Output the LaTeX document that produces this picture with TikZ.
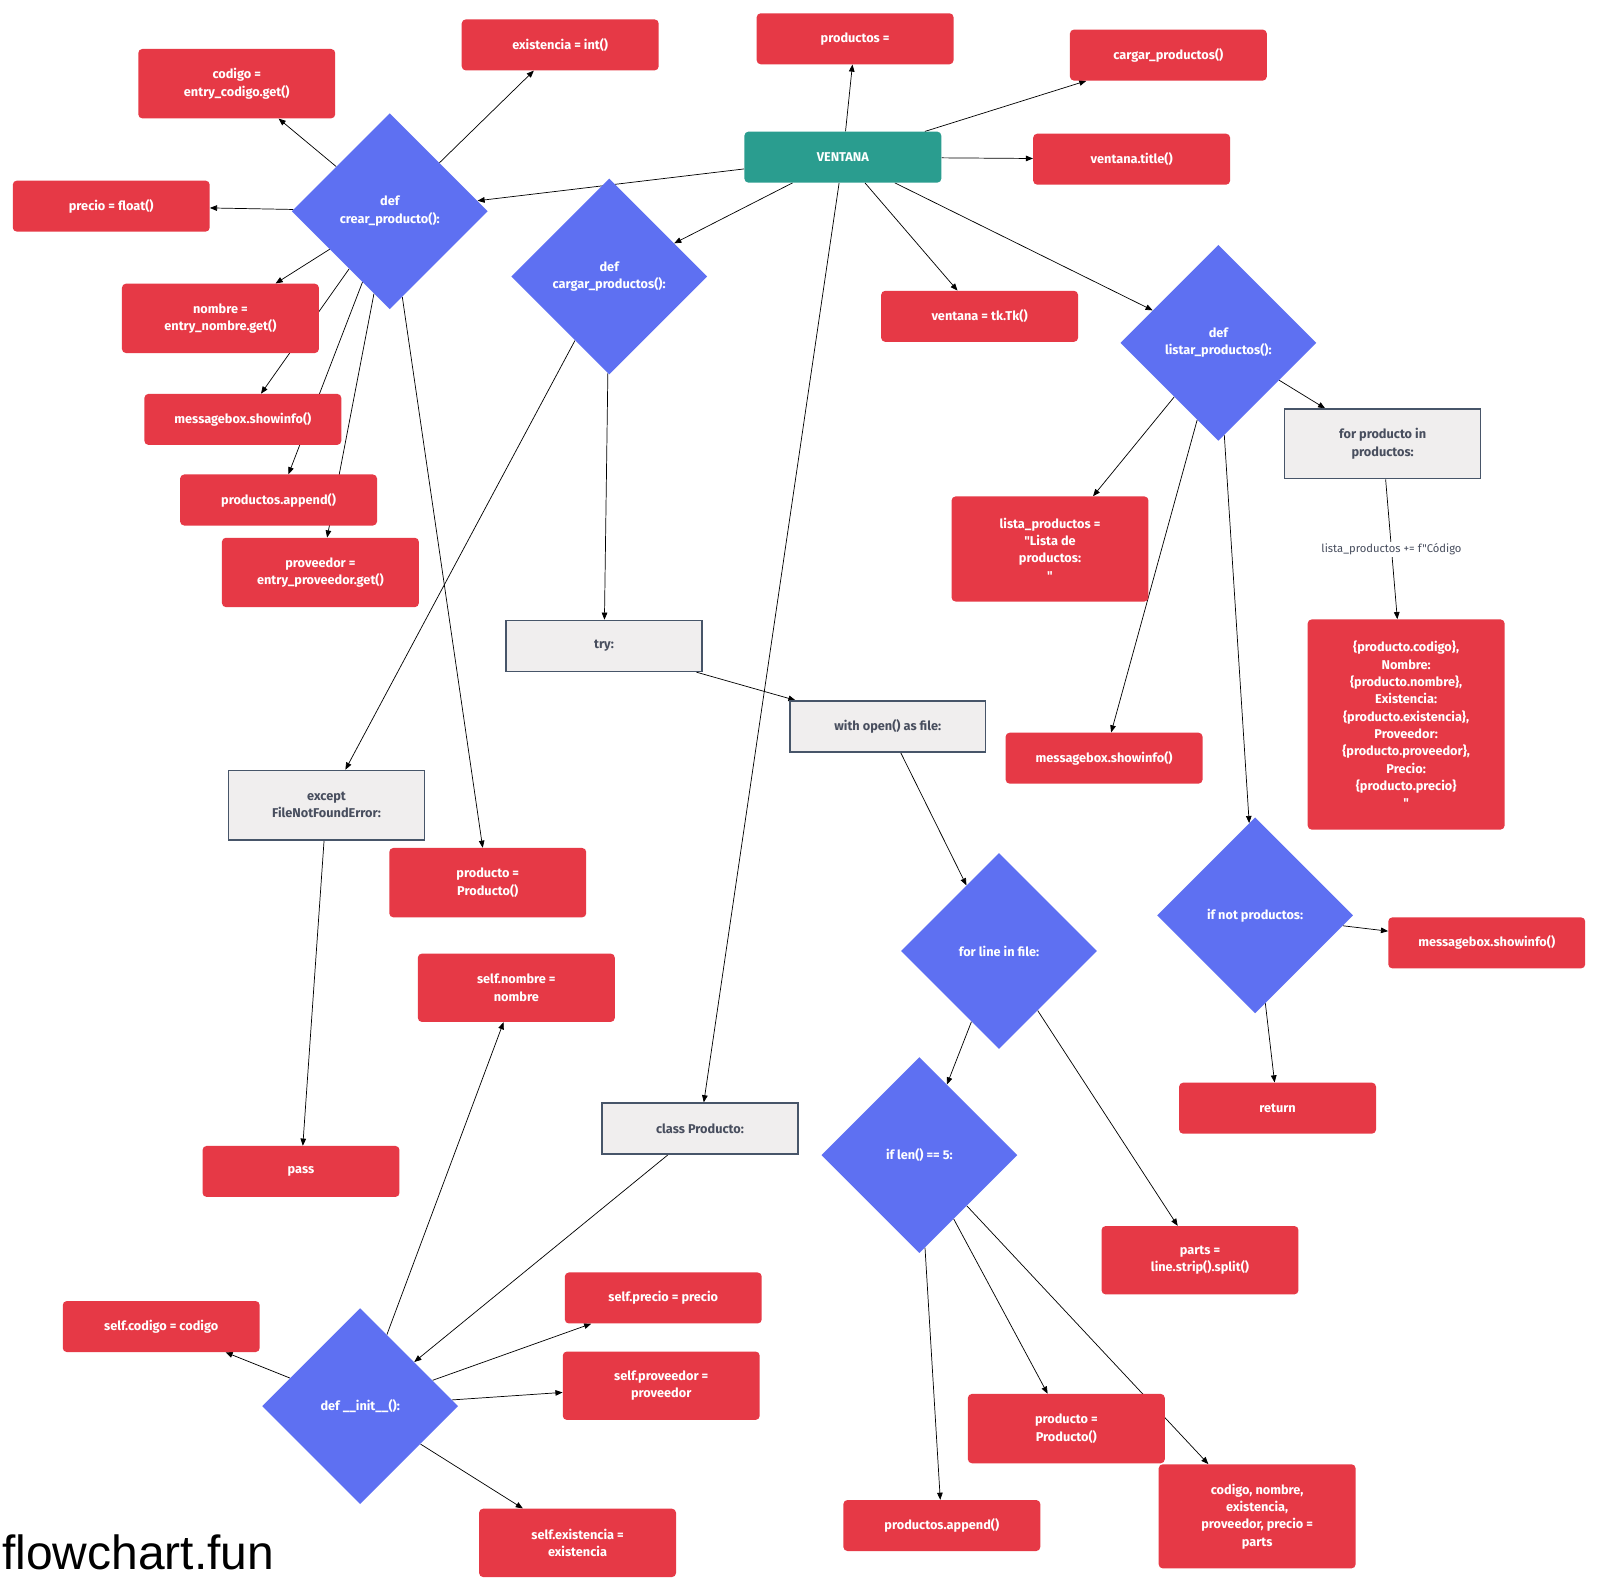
\documentclass[tikz,border=0pt]{standalone}
\usepackage{fontspec}
\setmainfont[Ligatures=TeXOff]{Fira Sans}
\newfontfamily\brandfont{Liberation Sans}
\usetikzlibrary{shapes.geometric,arrows.meta,backgrounds}

\begin{document}
\begin{tikzpicture}
		[x=1pt,y=-1pt,line cap=round,
		%Styles
		code node/.style={rectangle,rounded corners=4pt,fill=codered,text=white,align=center,
			font=\fontsize{12.5}{17}\selectfont\bfseries,minimum width=193pt,minimum height=50pt,inner sep=2pt},
		root node/.style={code node,fill=rootteal},
		block node/.style={rectangle,fill=blockgray,draw=blockline,line width=1.4pt,text=blocktext,align=center,
			font=\fontsize{12.5}{17}\selectfont\bfseries,minimum width=192pt,minimum height=50pt,inner sep=2pt},
		def node/.style={diamond,aspect=1,fill=defblue,text=white,align=center,
			font=\fontsize{12.5}{17}\selectfont\bfseries,minimum size=192pt,inner sep=0pt},
		edge label/.style={fill=white,text=blocktext,font=\fontsize{11}{13}\selectfont,inner sep=2pt},
		connector/.style={-{Triangle[length=7pt,width=5.5pt]},line width=0.7pt}
		]
		
		%Colors
		\definecolor{codered}{RGB}{230,57,70}
		\definecolor{rootteal}{RGB}{42,157,143}
		\definecolor{defblue}{RGB}{94,112,242}
		\definecolor{blockgray}{RGB}{240,238,238}
		\definecolor{blockline}{RGB}{71,85,105}
		\definecolor{blocktext}{RGB}{72,78,94}
		
		\useasboundingbox (0,0) rectangle (1568,1561);
		
		% ventana
		\node[root node] (1) at (826,154) {VENTANA};
		\node[code node] (2) at (838,38) {productos =};
		\node[code node] (3) at (1145,54) {cargar\_productos()};
		\node[code node] (4) at (1109,156) {ventana.title()};
		\node[code node] (5) at (960,310) {ventana = tk.Tk()};
		\node[def node] (6) at (382,207) {def\\crear\_producto():};
		\node[def node] (7) at (597,271) {def\\cargar\_productos():};
		\node[def node] (8) at (1194,336) {def\\listar\_productos():};
		\node[block node] (9) at (686,1106) {class Producto:};
		
		% crear_producto
		\node[code node,minimum height=68pt] (10) at (232,82) {codigo =\\entry\_codigo.get()};
		\node[code node] (11) at (549,44) {existencia = int()};
		\node[code node] (12) at (109,202) {precio = float()};
		\node[code node,minimum height=68pt] (13) at (216,312) {nombre =\\entry\_nombre.get()};
		\node[code node] (14) at (238,411) {messagebox.showinfo()};
		\node[code node] (15) at (273,490) {productos.append()};
		\node[code node,minimum height=68pt] (16) at (314,561) {proveedor =\\entry\_proveedor.get()};
		\node[code node,minimum height=68pt] (17) at (478,865) {producto =\\Producto()};
		
		% cargar_productos
		\node[block node] (18) at (592,633) {try:};
		\node[block node,minimum height=68pt] (19) at (320,789) {except\\FileNotFoundError:};
		\node[code node] (20) at (295,1148) {pass};
		\node[block node] (21) at (870,712) {with open() as file:};
		\node[def node] (22) at (979,932) {for line in file:};
		\node[def node] (23) at (901,1132) {if len() == 5:};
		\node[code node,minimum height=67pt] (24) at (1176,1235) {parts =\\line.strip().split()};
		\node[code node] (25) at (923,1495) {productos.append()};
		\node[code node,minimum height=68pt] (26) at (1045,1400) {producto =\\Producto()};
		\node[code node,minimum height=102pt] (27) at (1232,1486) {codigo, nombre,\\existencia,\\proveedor, precio =\\parts};
		
		% listar_productos
		\node[block node,minimum height=68pt] (28) at (1355,435) {for producto in\\productos:};
		\node[code node,minimum height=103pt] (29) at (1029,538) {lista\_productos =\\"Lista de\\productos:\\"};
		\node[code node] (30) at (1082,743) {messagebox.showinfo()};
		\node[def node] (31) at (1230,897) {if not productos:};
		\node[code node,minimum height=206pt] (32) at (1378,710) {\{producto.codigo\},\\Nombre:\\\{producto.nombre\},\\Existencia:\\\{producto.existencia\},\\Proveedor:\\\{producto.proveedor\},\\Precio:\\\{producto.precio\}\\"};
		\node[code node] (33) at (1457,924) {messagebox.showinfo()};
		\node[code node] (34) at (1252,1086) {return};
		
		% class Producto
		\node[def node] (35) at (353,1378) {def \_\_init\_\_():};
		\node[code node,minimum height=67pt] (36) at (506,968) {self.nombre =\\nombre};
		\node[code node] (37) at (158,1300) {self.codigo = codigo};
		\node[code node] (38) at (650,1272) {self.precio = precio};
		\node[code node,minimum height=67pt] (39) at (648,1358) {self.proveedor =\\proveedor};
		\node[code node,minimum height=67pt] (40) at (566,1512) {self.existencia =\\existencia};
		
		\node[anchor=base west,font=\brandfont\fontsize{47}{47}\selectfont,inner sep=0pt] (41) at (2,1538) {flowchart.fun};
		
		\begin{pgfonlayer}{background}
		\fill[white] (0,0) rectangle (1568,1561);
		\path[connector]
			(1)	edge (2)
				edge (3)
				edge (4)
				edge (5)
				edge (6)
				edge (7)
				edge (8)
				edge (9)
			(6)	edge (10)
				edge (11)
				edge (12)
				edge (13)
				edge (14)
				edge (15)
				edge (16)
				edge (17)
			(7)	edge (18)
				edge (19)
			(18) edge (21)
			(19) edge (20)
			(21) edge (22)
			(22) edge (23)
				edge (24)
			(23) edge (25)
				edge (26)
				edge (27)
			(8)	edge (28)
				edge (29)
				edge (30)
				edge (31)
			(28) edge node[edge label] {lista\_productos += f"Código} (32)
			(31) edge (33)
				edge (34)
			(9)	edge (35)
			(35) edge (36)
				edge (37)
				edge (38)
				edge (39)
				edge (40);
		\end{pgfonlayer}
	\end{tikzpicture}
\end{document}
